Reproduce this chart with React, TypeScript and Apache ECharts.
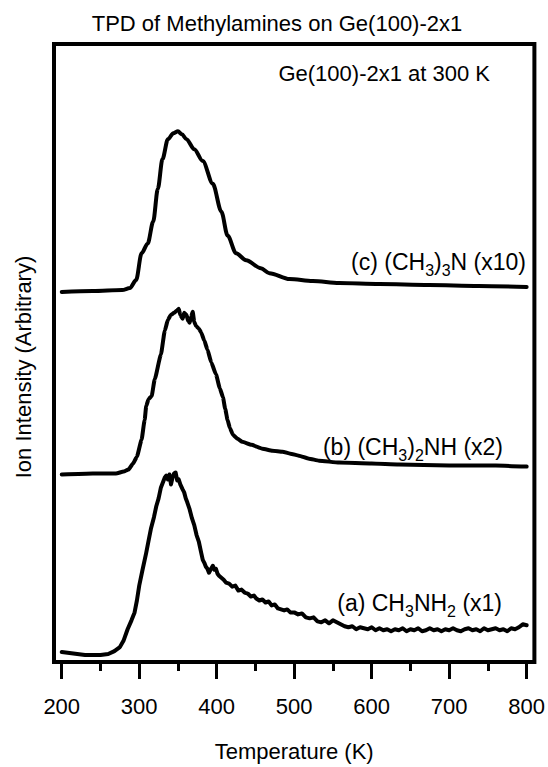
import React, { useEffect, useRef } from "react";
import * as echarts from "echarts";

// Temperature (K) and ion intensity (arbitrary, offset per trace)
const tempsA = [200, 210, 220, 230, 240, 250, 260, 268, 275, 280, 285, 290, 294, 297, 300, 304, 309, 312, 315, 319, 322, 325, 328, 331, 333, 335, 337, 339, 341, 343, 345, 347, 349, 351, 353, 356, 358, 360, 362, 365, 368, 371, 374, 377, 380, 382, 384, 386, 388, 390, 392, 395, 397, 399, 401, 403, 406, 409, 412, 416, 420, 424, 428, 432, 436, 440, 444, 448, 451, 455, 459, 463, 467, 471, 475, 479, 483, 487, 491, 495, 500, 505, 510, 515, 520, 525, 530, 535, 540, 545, 550, 555, 560, 565, 570, 575, 580, 585, 590, 595, 600, 605, 610, 615, 620, 625, 630, 635, 640, 645, 650, 655, 660, 665, 670, 675, 680, 685, 690, 695, 700, 705, 710, 715, 720, 725, 730, 735, 740, 745, 750, 755, 760, 765, 770, 775, 780, 785, 790, 795, 800];
const intensityA = [10, 9, 8, 7, 7, 7, 8, 11, 15, 22, 33, 42, 50, 62, 77, 92, 110, 122, 134, 146, 157, 165, 176, 182, 186, 188, 184, 189, 179, 186, 190, 191, 183, 184, 179, 174, 171, 165, 161, 154, 145, 138, 128, 121, 110, 103, 100, 96, 94, 90, 93, 97, 93, 94, 89, 87, 85, 83, 80, 79, 76, 77, 72, 73, 70, 69, 66, 67, 64, 62, 63, 60, 61, 57, 58, 54, 53, 52, 53, 50, 50, 48, 49, 45, 44, 45, 41, 40, 42, 39, 42, 40, 38, 36, 35, 36, 33, 35, 34, 33, 35, 32, 34, 32, 33, 31, 33, 32, 34, 31, 33, 32, 34, 31, 32, 34, 32, 33, 31, 33, 32, 34, 32, 31, 33, 34, 32, 33, 31, 34, 32, 33, 34, 32, 33, 31, 34, 33, 35, 38, 37];

const tempsB = [200, 240, 270, 280, 286, 292, 297, 303, 307, 309, 312, 316, 320, 328, 333, 337, 341, 345, 348, 351, 353, 356, 358, 361, 363, 365, 367, 369, 371, 373, 377, 380, 384, 388, 393, 399, 404, 408, 411, 414, 417, 421, 427, 433, 445, 459, 472, 485, 495, 506, 519, 532, 558, 600, 635, 700, 760, 800];
const intensityB = [189, 190, 190, 192, 194, 200, 207, 224, 244, 258, 265, 268, 285, 310, 334, 345, 350, 352, 354, 356, 350, 346, 352, 350, 344, 342, 348, 353, 343, 339, 336, 332, 324, 315, 302, 290, 276, 267, 255, 244, 236, 229, 225, 222, 219, 215, 213, 212, 210, 208, 205, 203, 201, 200, 199, 198, 198, 197];

const tempsC = [200, 240, 278, 288, 296, 303, 311, 318, 324, 330, 337, 344, 350, 355, 361, 371, 382, 395, 406, 414, 425, 438, 457, 468, 494, 524, 558, 610, 674, 738, 800];
const intensityC = [373, 374, 375, 377, 385, 412, 422, 444, 477, 507, 527, 533, 535, 532, 527, 517, 505, 482, 454, 430, 412, 405, 397, 392, 386, 384, 382, 381, 380, 379, 378];

const majorTicks = [200, 300, 400, 500, 600, 700, 800];
const minorTicks = [250, 350, 450, 550, 650, 750];

const FONT = '"Liberation Sans", Arial, Helvetica, sans-serif';

const zip = (xs: number[], ys: number[]) => xs.map((x, i) => [x, ys[i]]);

const richStyle = {
  n: { fontSize: 23, fontFamily: FONT, color: "#000", lineHeight: 32, verticalAlign: "middle" },
  s: { fontSize: 16, fontFamily: FONT, color: "#000", lineHeight: 16, verticalAlign: "bottom" },
};

export default function App() {
  const ref = useRef<HTMLDivElement>(null);
  useEffect(() => {
    if (!ref.current) return;
    const chart = echarts.init(ref.current, null, { renderer: "svg" });
    const lineSeries = (data: number[][], smooth: number | boolean) => ({
      type: "line",
      data,
      showSymbol: false,
      symbol: "none",
      smooth,
      smoothMonotone: "x",
      lineStyle: { color: "#000", width: 4, join: "round", cap: "round" },
      itemStyle: { color: "#000" },
      silent: true,
    });
    chart.setOption({
      animation: false,
      backgroundColor: "#fff",
      grid: {
        left: 54,
        right: 12,
        top: 44,
        bottom: 100,
        show: true,
        borderColor: "#000",
        borderWidth: 4,
        backgroundColor: "transparent",
      },
      xAxis: [
        {
          type: "value",
          min: 190,
          max: 810,
          position: "bottom",
          axisLine: { show: false },
          axisTick: { show: true, inside: false, length: 17, customValues: majorTicks, lineStyle: { color: "#000", width: 3 } },
          axisLabel: { customValues: majorTicks, fontSize: 22, fontFamily: FONT, color: "#000", margin: 33 },
          splitLine: { show: false },
          name: "Temperature (K)",
          nameLocation: "middle",
          nameGap: 78,
          nameTextStyle: { fontSize: 22, fontFamily: FONT, color: "#000" },
        },
        {
          type: "value",
          min: 190,
          max: 810,
          position: "bottom",
          offset: 0,
          axisLine: { show: false },
          axisTick: { show: true, inside: false, length: 9, customValues: minorTicks, lineStyle: { color: "#000", width: 3 } },
          axisLabel: { show: false },
          splitLine: { show: false },
        },
      ],
      yAxis: {
        type: "value",
        min: 0,
        max: 623,
        axisLine: { show: false },
        axisTick: { show: false },
        axisLabel: { show: false },
        splitLine: { show: false },
      },
      series: [
        lineSeries(zip(tempsA, intensityA), false),
        lineSeries(zip(tempsB, intensityB), 0.15),
        lineSeries(zip(tempsC, intensityC), 0.3),
      ],
      graphic: [
        {
          type: "text",
          x: 277,
          y: 23,
          style: { text: "TPD of Methylamines on Ge(100)-2x1", fontSize: 22, fontFamily: FONT, fill: "#000", align: "center", verticalAlign: "middle" },
        },
        {
          type: "text",
          x: 490,
          y: 73,
          style: { text: "Ge(100)-2x1 at 300 K", fontSize: 22, fontFamily: FONT, fill: "#000", align: "right", verticalAlign: "middle" },
        },
        {
          type: "text",
          x: 23,
          y: 367,
          rotation: Math.PI / 2,
          style: { text: "Ion Intensity (Arbitrary)", fontSize: 22, fontFamily: FONT, fill: "#000", align: "center", verticalAlign: "middle" },
        },
        {
          type: "text",
          x: 526,
          y: 262,
          style: { text: "{n|(c) (CH}{s|3}{n|)}{s|3}{n|N (x10)}", rich: richStyle, align: "right", verticalAlign: "middle" },
        },
        {
          type: "text",
          x: 503,
          y: 447,
          style: { text: "{n|(b) (CH}{s|3}{n|)}{s|2}{n|NH (x2)}", rich: richStyle, align: "right", verticalAlign: "middle" },
        },
        {
          type: "text",
          x: 502,
          y: 603,
          style: { text: "{n|(a) CH}{s|3}{n|NH}{s|2}{n| (x1)}", rich: richStyle, align: "right", verticalAlign: "middle" },
        },
      ],
    });
    return () => chart.dispose();
  }, []);
  return <div ref={ref} style={{ position: "fixed", left: 0, top: 0, width: 548, height: 767, background: "#fff" }} />;
}
